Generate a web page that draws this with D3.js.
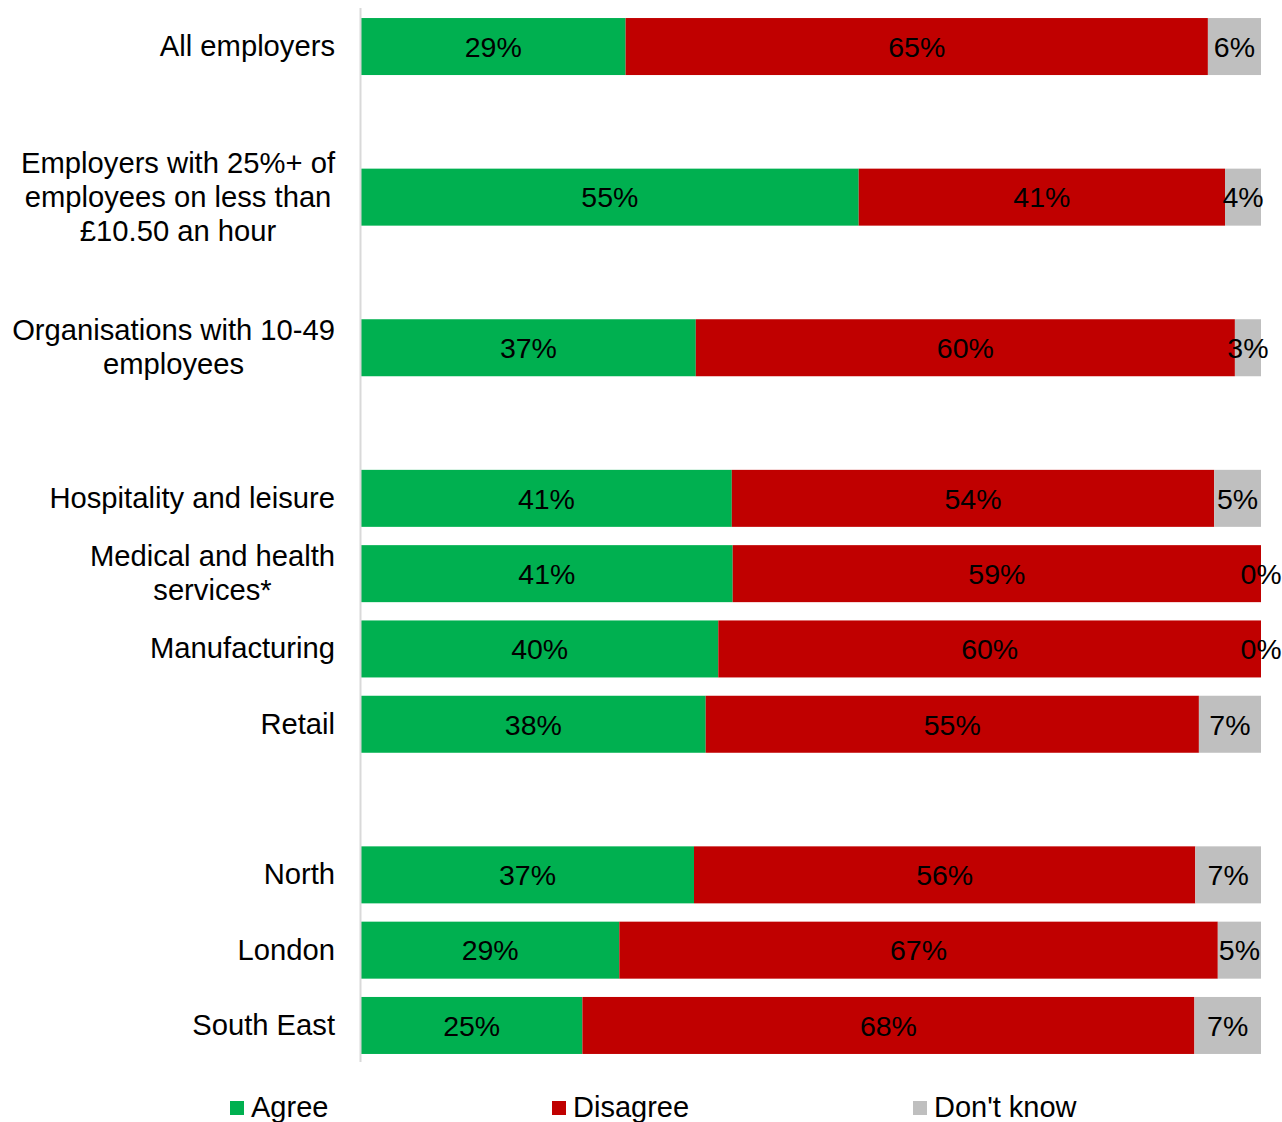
<!DOCTYPE html>
<html>
<head>
<meta charset="utf-8">
<script src="https://cdn.jsdelivr.net/npm/d3@7"></script>
<style>
  html, body { margin: 0; padding: 0; background: #fff; }
  svg { display: block; font-family: "Liberation Sans", Arial, sans-serif; }
</style>
</head>
<body>
<svg id="chart" width="1282" height="1122"></svg>
<script>
// ---- Data ----
const groups = [
  ["All employers"],
  ["Employers with 25%+ of\nemployees on less than\n£10.50 an hour"],
  ["Organisations with 10-49\nemployees"],
  ["Hospitality and leisure", "Medical and health\nservices*", "Manufacturing", "Retail"],
  ["North", "London", "South East"]
];
const categories = groups.flat();
const seriesNames = ["Agree", "Disagree", "Don't know"];
const agree     = [29.4, 55.3, 37.2, 41.2, 41.3, 39.7, 38.3, 37.0, 28.7, 24.6];
const disagree  = [64.7, 40.7, 59.9, 53.6, 58.7, 60.3, 54.8, 55.7, 66.5, 68.0];
const dontKnow  = [5.9,  4.0,  2.9,  5.2,  0.0,  0.0,  6.9,  7.3,  4.8,  7.4];
const colors = ["#00b050", "#c00000", "#bfbfbf"];

// ---- Build table ----
const table = categories.map((c, i) => ({
  category: c, "Agree": agree[i], "Disagree": disagree[i], "Don't know": dontKnow[i]
}));

// Domain with spacer slots between groups
const domain = [];
groups.forEach((g, gi) => {
  if (gi > 0) domain.push("__gap" + gi);
  g.forEach(c => domain.push(c));
});

const svg = d3.select("#chart");
const plotLeft = 361, plotRight = 1261, plotTop = 9, plotBottom = 1063;

const x = d3.scaleLinear().domain([0, 100]).range([plotLeft, plotRight]);
const y = d3.scaleBand().domain(domain).range([plotTop, plotBottom]).paddingInner(0.243).paddingOuter(0.12);

const stack = d3.stack().keys(seriesNames);
const stacked = stack(table);

const layer = svg.append("g").selectAll("g").data(stacked).join("g")
  .attr("fill", (d, i) => colors[i]);

layer.selectAll("rect").data(d => d).join("rect")
  .attr("x", d => x(d[0]))
  .attr("y", d => y(d.data.category))
  .attr("width", d => x(d[1]) - x(d[0]))
  .attr("height", y.bandwidth());

// Value labels
const labG = svg.append("g").attr("font-size", 28.5).attr("fill", "#000").attr("text-anchor", "middle");
stacked.forEach(s => {
  labG.selectAll(null).data(s).join("text")
    .attr("x", d => (x(d[0]) + x(d[1])) / 2)
    .attr("y", d => y(d.data.category) + y.bandwidth() / 2)
    .attr("dy", "0.36em")
    .text(d => Math.round(d[1] - d[0]) + "%");
});

// Vertical axis line
svg.append("line")
  .attr("x1", plotLeft - 0.5).attr("x2", plotLeft - 0.5)
  .attr("y1", 8).attr("y2", 1062)
  .attr("stroke", "#d9d9d9").attr("stroke-width", 2);

// Category labels (centered block, right edge at 335)
const catG = svg.append("g").attr("font-size", 29.2).attr("fill", "#000");
const lineH = 34;
categories.forEach(c => {
  const lines = c.split("\n");
  const cy = y(c) + y.bandwidth() / 2 - 1;
  const t = catG.append("text").attr("text-anchor", "middle");
  lines.forEach((ln, i) => {
    t.append("tspan")
      .attr("y", cy + (i - (lines.length - 1) / 2) * lineH)
      .attr("dy", "0.36em")
      .text(ln);
  });
  let maxW = 0;
  t.selectAll("tspan").each(function() { maxW = Math.max(maxW, this.getComputedTextLength()); });
  t.selectAll("tspan").attr("x", 335 - maxW / 2);
});

// Legend
const legendX = [230, 552, 913];
const leg = svg.append("g").attr("font-size", 29);
seriesNames.forEach((s, i) => {
  const g = leg.append("g").attr("transform", `translate(${legendX[i]},1107)`);
  g.append("rect").attr("x", 0).attr("y", -6).attr("width", 14).attr("height", 14).attr("fill", colors[i]);
  g.append("text").attr("x", 21).attr("y", 0).attr("dy", "0.36em").text(s);
});
</script>
</body>
</html>
